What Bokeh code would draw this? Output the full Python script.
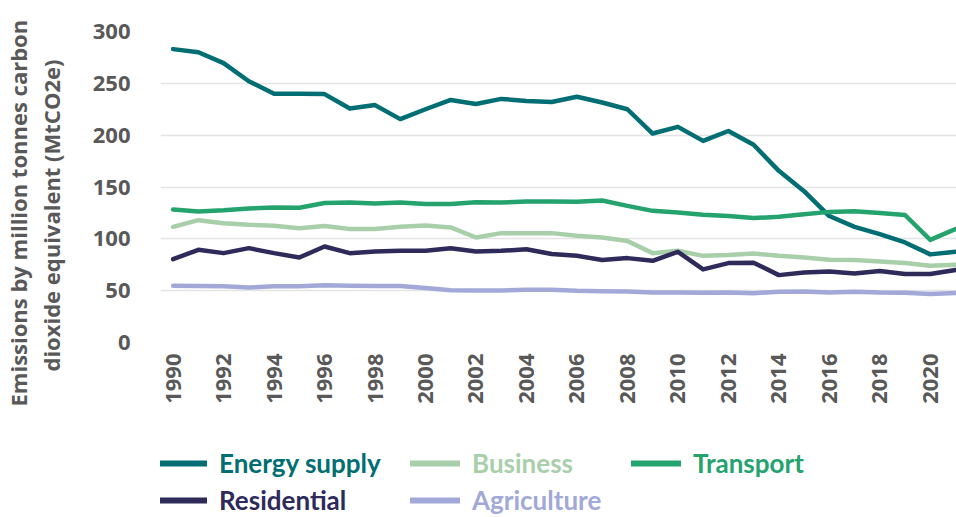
from bokeh.plotting import figure
from bokeh.models import Range1d, FixedTicker, Legend, LegendItem, Title
from bokeh.layouts import column
from bokeh.embed import file_html
from bokeh.resources import INLINE
import math

years = list(range(1990, 2022))

energy_supply = [283, 280, 269.5, 252, 240, 240, 239.6, 225.7, 229, 215.5, 225, 234, 230, 235, 233, 232,
                 237, 231.5, 225, 201.6, 208, 194.5, 204, 190.7, 165.6, 146, 122, 111.6, 104.5, 96.5, 85, 87.5]
business = [111.6, 118, 115, 113.5, 112.6, 110.3, 112.3, 109.4, 109.4, 111.6, 112.9, 111, 101.3, 105.5, 105.5, 105.5,
            103, 101.3, 98, 86.2, 88.5, 83.6, 84.3, 85.8, 83.6, 82, 79.8, 79.5, 78.1, 76.6, 74, 75]
transport = [128.3, 126.4, 127.5, 129.3, 130.2, 130, 134.5, 135, 134, 135, 133.5, 133.5, 135.4, 135, 136, 136,
             135.7, 137, 131.8, 127, 125.4, 123.2, 122, 120, 121.3, 123.8, 126, 126.5, 125, 123, 99, 109.4]
residential = [80.4, 89.4, 86.2, 91, 86.2, 82, 92.6, 86.2, 87.8, 88.4, 88.4, 91, 87.8, 88.4, 90, 85.3,
               83.6, 79.5, 81.4, 78.8, 87.5, 70.5, 76.6, 77, 65, 67.5, 68.5, 66.6, 69, 66, 66, 70]
agriculture = [54.7, 54.5, 54.2, 53, 54.2, 54.2, 55.3, 54.7, 54.5, 54.5, 52.5, 50.5, 50.2, 50.2, 51, 51,
               49.9, 49.5, 49.2, 48.2, 48.2, 48, 48.2, 47.5, 49, 49.3, 48.2, 49, 48.2, 48, 46.7, 47.8]

series_names = ["Energy supply", "Business", "Transport", "Residential", "Agriculture"]
series_values = [energy_supply, business, transport, residential, agriculture]
series_colors = ["#006E73", "#A8CFAA", "#24A36F", "#2E2A5A", "#A2A9D8"]

x_ticks = list(range(1990, 2021, 2))
y_ticks = [0, 50, 100, 150, 200, 250, 300]
y_title_line1 = "Emissions by million tonnes carbon"
y_title_line2 = "dioxide equivalent (MtCO2e)"

TEXT_GRAY = "#595959"

p = figure(width=956, height=417, output_backend="svg", toolbar_location=None,
           x_range=Range1d(1989.5, 2021.04), y_range=Range1d(0, 300),
           min_border_left=154, min_border_right=0, min_border_top=31, min_border_bottom=75)
p.outline_line_color = None
p.background_fill_color = "white"
p.border_fill_color = "white"

for name, vals, col in zip(series_names, series_values, series_colors):
    p.line(years, vals, line_color=col, line_width=4.5, line_join="round", line_cap="round")

p.xaxis.ticker = FixedTicker(ticks=x_ticks)
p.yaxis.ticker = FixedTicker(ticks=y_ticks)
for ax in (p.xaxis, p.yaxis):
    ax.axis_line_color = None
    ax.major_tick_line_color = None
    ax.minor_tick_line_color = None
    ax.major_label_text_font = "Open Sans"
    ax.major_label_text_font_style = "bold"
    ax.major_label_text_font_size = "22px"
    ax.major_label_text_color = TEXT_GRAY
p.xaxis.major_label_orientation = math.pi / 2
p.xaxis.major_label_standoff = 5
p.yaxis.major_label_standoff = 24

# second line of the y title is the axis label (padded so it sits lower, like the original)
p.yaxis.axis_label = y_title_line2 + "\u00a0" * 10
p.yaxis.axis_label_standoff = 24
p.yaxis.axis_label_text_font = "Open Sans"
p.yaxis.axis_label_text_font_style = "bold"
p.yaxis.axis_label_text_font_size = "22px"
p.yaxis.axis_label_text_color = TEXT_GRAY

# first line of the y title, outside the axis
t1 = Title(text=y_title_line1, align="left", offset=-64, standoff=0,
           text_font="Open Sans", text_font_style="bold", text_font_size="22px",
           text_color=TEXT_GRAY)
p.add_layout(t1, "left")

p.xgrid.grid_line_color = None
p.ygrid.grid_line_color = "#E4E4E4"
p.ygrid.grid_line_width = 1.5

# legend figure below the chart (one legend per series so each label has its colour)
lg_fig = figure(width=956, height=100, output_backend="svg", toolbar_location=None,
                x_range=Range1d(0, 1), y_range=Range1d(0, 1),
                x_axis_location=None, y_axis_location=None, min_border=0)
lg_fig.outline_line_color = None
lg_fig.xgrid.visible = False
lg_fig.ygrid.visible = False

positions = [(-3, 38), (250, 38), (471, 38), (-3, 1), (250, 1)]
for name, col, loc in zip(series_names, series_colors, positions):
    proxy = lg_fig.line([float("nan")], [float("nan")], line_color=col, line_width=6, line_cap="round")
    lg = Legend(items=[LegendItem(label=name, renderers=[proxy])], location=loc,
                padding=0, margin=0, spacing=0,
                glyph_width=50, glyph_height=32, label_height=32, label_standoff=12,
                label_text_font="Lato", label_text_font_style="bold",
                label_text_font_size="26px", label_text_color=col,
                background_fill_alpha=0, border_line_color=None)
    lg_fig.add_layout(lg, "center")

layout = column(p, lg_fig, spacing=0)
open("out.html", "w").write(file_html(layout, INLINE))
